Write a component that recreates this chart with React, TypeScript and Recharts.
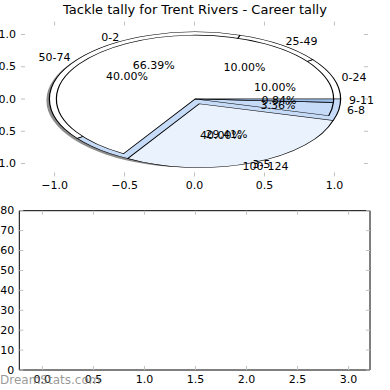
import React from 'react';
import { PieChart, Pie, Cell, ScatterChart, Scatter, XAxis, YAxis } from 'recharts';

const title = 'Tackle tally for Trent Rivers - Career tally';
const pie1Names = ['0-2', '3-5', '6-8', '9-11'];
const pie1Values = [79, 35, 4, 1];
const pie1Colors = ['#ffffff', '#eaf2fd', '#c6dbf8', '#9ec0ee'];
const pie1Explode = [0, 0.08, 0, 0];
const pie2Names = ['0-24', '25-49', '50-74', '100-124'];
const pie2Values = [1, 1, 4, 4];
const pie2Colors = ['#ffffff', '#ffffff', '#ffffff', '#c6dbf8'];
const topTicks = [-1, -0.5, 0, 0.5, 1];
const bottomXTicks = [0, 0.5, 1, 1.5, 2, 2.5, 3];
const bottomYTicks = [0, 10, 20, 30, 40, 50, 60, 70, 80];
const watermark = 'DreamStats.com';

const pie1Data = pie1Names.map((name, i) => ({ name, value: pie1Values[i] }));
const pie2Data = pie2Names.map((name, i) => ({ name, value: pie2Values[i] }));

const FONT = 'DejaVu Sans, Verdana, sans-serif';
const R = 140; // px per unit horizontally
const S = 64.5 / 140; // vertical squash
const TICK_COLOR = '#c0c0c0';

const fmt = (v: number) => (v < 0 ? '\u2212' + Math.abs(v).toFixed(1) : v.toFixed(1));

const makeLabel = (showName: boolean, showPct: boolean) => (props: any) => {
  const { cx, cy, midAngle, percent } = props;
  const name = props.name ?? props.payload?.name;
  const a = (midAngle * Math.PI) / 180;
  const nx = cx + 1.1 * R * Math.cos(a);
  const ny = cy - 1.1 * R * Math.sin(a);
  const px = cx + 0.6 * R * Math.cos(a);
  const py = cy - 0.6 * R * Math.sin(a);
  const anchor = Math.cos(a) > 0.001 ? 'start' : Math.cos(a) < -0.001 ? 'end' : 'middle';
  return (
    <g>
      {showName && (
        <text
          x={0}
          y={0}
          transform={`translate(${nx} ${ny}) scale(1 ${1 / S})`}
          textAnchor={anchor}
          dominantBaseline="central"
          fontFamily={FONT}
          fontSize={11}
          fill="#000"
        >
          {name}
        </text>
      )}
      {showPct && (
        <text
          x={0}
          y={0}
          transform={`translate(${px} ${py}) scale(1 ${1 / S})`}
          textAnchor="middle"
          dominantBaseline="central"
          fontFamily={FONT}
          fontSize={11}
          fill="#000"
        >
          {(percent * 100).toFixed(2) + '%'}
        </text>
      )}
    </g>
  );
};

const total1 = pie1Values.reduce((a, b) => a + b, 0);
const explodeTransform = (i: number) => {
  const before = pie1Values.slice(0, i).reduce((a, b) => a + b, 0);
  const mid = ((before + pie1Values[i] / 2) / total1) * 2 * Math.PI;
  const d = pie1Explode[i] * R;
  return `translate(${d * Math.cos(mid)} ${-d * Math.sin(mid)})`;
};

const BottomTickX = (plotH: number, labelOffset: number) => (props: any) => {
  const { x, y, payload } = props;
  return (
    <g>
      <line x1={x} y1={y} x2={x} y2={y - 4} stroke={TICK_COLOR} strokeWidth={1} />
      <line x1={x} y1={y - plotH} x2={x} y2={y - plotH + 4} stroke={TICK_COLOR} strokeWidth={1} />
      <text x={x} y={y + labelOffset} textAnchor="middle" dominantBaseline="central" fontFamily={FONT} fontSize={11} fill="#000">
        {fmt(payload.value)}
      </text>
    </g>
  );
};

const LeftTickY = (plotW: number, formatter: (v: number) => string) => (props: any) => {
  const { x, y, payload } = props;
  return (
    <g>
      <line x1={x} y1={y} x2={x + 4} y2={y} stroke={TICK_COLOR} strokeWidth={1} />
      <line x1={x + plotW} y1={y} x2={x + plotW - 4} y2={y} stroke={TICK_COLOR} strokeWidth={1} />
      <text x={x - 5} y={y} textAnchor="end" dominantBaseline="central" fontFamily={FONT} fontSize={11} fill="#000">
        {formatter(payload.value)}
      </text>
    </g>
  );
};

export default function App() {
  const topPlotW = 368 - 21;
  const topPlotH = 176.4 - 21.6;
  const botPlotW = 370 - 19.3;
  const botPlotH = 370 - 210.7;
  return (
    <div style={{ position: 'absolute', left: 0, top: 0, width: 390, height: 390, background: '#fff', overflow: 'hidden' }}>
      <div style={{ position: 'absolute', left: 0, top: 0 }}>
        <ScatterChart width={390} height={200} margin={{ top: 21.6, right: 22, bottom: 22.6, left: 20 }}>
          <XAxis
            type="number"
            dataKey="x"
            domain={[-1.24, 1.24]}
            ticks={topTicks}
            allowDataOverflow
            height={1}
            axisLine={false}
            tickLine={false}
            tickSize={0}
            tickMargin={0}
            interval={0}
            tick={BottomTickX(topPlotH, 9)}
          />
          <YAxis
            type="number"
            dataKey="y"
            domain={[-1.2, 1.2]}
            ticks={topTicks}
            allowDataOverflow
            width={1}
            axisLine={false}
            tickLine={false}
            tickSize={0}
            tickMargin={0}
            interval={0}
            tick={LeftTickY(topPlotW, fmt)}
          />
          <Scatter data={[]} isAnimationActive={false} />
        </ScatterChart>
      </div>

      <div
        style={{
          position: 'absolute',
          left: 0,
          top: 98.5 - 195,
          width: 390,
          height: 390,
          transform: `scaleY(${S})`,
          transformOrigin: '50% 50%',
        }}
      >
        <PieChart width={390} height={390} margin={{ top: 0, right: 0, bottom: 0, left: 0 }}>
          <Pie
            data={pie2Data}
            dataKey="value"
            nameKey="name"
            cx={192}
            cy={198}
            outerRadius={1.04 * R}
            startAngle={0}
            endAngle={360}
            fill="#000"
            fillOpacity={0.45}
            stroke="none"
            labelLine={false}
            isAnimationActive={false}
          />
          <Pie
            data={pie2Data}
            dataKey="value"
            nameKey="name"
            cx={195}
            cy={195}
            outerRadius={1.04 * R}
            startAngle={0}
            endAngle={360}
            stroke="#000"
            strokeWidth={1.2}
            labelLine={false}
            isAnimationActive={false}
          >
            {pie2Data.map((d, i) => (
              <Cell key={d.name} fill={pie2Colors[i]} />
            ))}
          </Pie>
          <Pie
            data={pie1Data}
            dataKey="value"
            nameKey="name"
            cx={195}
            cy={195}
            outerRadius={0.99 * R}
            startAngle={0}
            endAngle={360}
            stroke="#000"
            strokeWidth={1.2}
            labelLine={false}
            label={makeLabel(true, true)}
            isAnimationActive={false}
          >
            {pie1Data.map((d, i) => (
              <Cell key={d.name} fill={pie1Colors[i]} transform={explodeTransform(i)} />
            ))}
          </Pie>
          <Pie
            data={pie2Data}
            dataKey="value"
            nameKey="name"
            cx={195}
            cy={195}
            outerRadius={1.04 * R}
            startAngle={0}
            endAngle={360}
            fill="none"
            stroke="none"
            labelLine={false}
            label={makeLabel(true, true)}
            isAnimationActive={false}
          />
        </PieChart>
      </div>

      <div style={{ position: 'absolute', left: 0, top: 200 }}>
        <ScatterChart width={390} height={190} margin={{ top: 9.7, right: 19, bottom: 19, left: 18.3 }}>
          <XAxis
            type="number"
            dataKey="x"
            domain={[-0.226, 3.21]}
            ticks={bottomXTicks}
            allowDataOverflow
            height={1}
            axisLine={{ stroke: '#000', strokeWidth: 1 }}
            tickLine={false}
            tickSize={0}
            tickMargin={0}
            interval={0}
            tick={BottomTickX(botPlotH, 9)}
          />
          <XAxis
            xAxisId="top"
            orientation="top"
            type="number"
            dataKey="x"
            domain={[-0.226, 3.21]}
            ticks={bottomXTicks}
            allowDataOverflow
            height={1}
            axisLine={{ stroke: '#000', strokeWidth: 1 }}
            tickLine={false}
            tick={false}
          />
          <YAxis
            type="number"
            dataKey="y"
            domain={[0, 80]}
            ticks={bottomYTicks}
            allowDataOverflow
            width={1}
            axisLine={{ stroke: '#000', strokeWidth: 1 }}
            tickLine={false}
            tickSize={0}
            tickMargin={0}
            interval={0}
            tick={LeftTickY(botPlotW, (v: number) => String(v))}
          />
          <YAxis
            yAxisId="right"
            orientation="right"
            type="number"
            dataKey="y"
            domain={[0, 80]}
            allowDataOverflow
            width={1}
            axisLine={{ stroke: '#000', strokeWidth: 1 }}
            tickLine={false}
            tick={false}
          />
          <Scatter data={[]} isAnimationActive={false} />
        </ScatterChart>
      </div>

      <div
        style={{
          position: 'absolute',
          left: 0,
          top: 2,
          width: 390,
          textAlign: 'center',
          fontFamily: FONT,
          fontSize: 13,
          color: '#000',
          whiteSpace: 'nowrap',
        }}
      >
        {title}
      </div>
      <div
        style={{
          position: 'absolute',
          left: 0,
          top: 373,
          fontFamily: FONT,
          fontSize: 12,
          color: 'rgba(120,120,120,0.75)',
          whiteSpace: 'nowrap',
        }}
      >
        {watermark}
      </div>
    </div>
  );
}
